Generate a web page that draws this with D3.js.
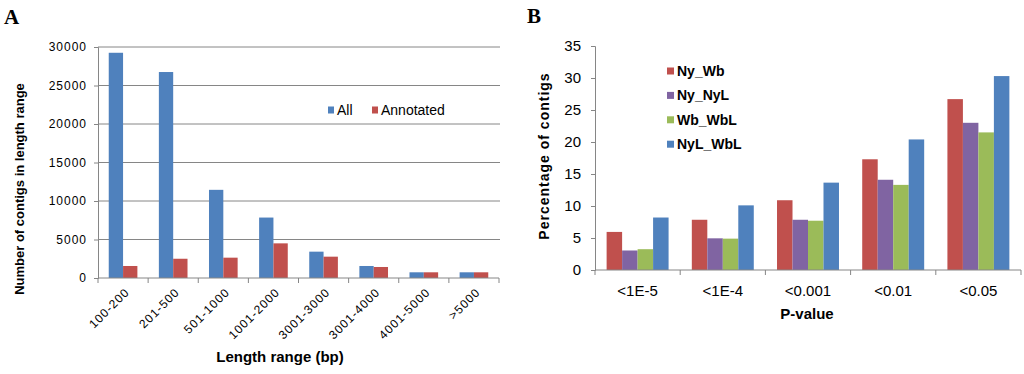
<!DOCTYPE html>
<html>
<head>
<meta charset="utf-8">
<script src="https://cdn.jsdelivr.net/npm/d3@7"></script>
<style>
  body { margin: 0; background: #fff; }
  svg { display: block; }
  text { font-family: "Liberation Sans", Arial, sans-serif; fill: #000; }
  .panel { font-family: "Liberation Serif", "Times New Roman", serif; font-weight: bold; font-size: 21px; }
  .axis path, .axis line { stroke: #868686; }
  .grid line { stroke: #868686; }
</style>
</head>
<body>
<svg width="1024" height="374"></svg>
<script>
// panel A data
var lengthRanges = ["100-200", "201-500", "501-1000", "1001-2000", "3001-3000", "3001-4000", "4001-5000", ">5000"];
var allCounts = [29250, 26750, 11450, 7850, 3420, 1560, 740, 740];
var annotatedCounts = [1560, 2500, 2640, 4500, 2770, 1430, 740, 740];
var seriesA = ["All", "Annotated"];
var yTicksA = [0, 5000, 10000, 15000, 20000, 25000, 30000];

// panel B data
var pValues = ["<1E-5", "<1E-4", "<0.001", "<0.01", "<0.05"];
var nyWb = [5.95, 7.85, 10.9, 17.3, 26.7];
var nyNyL = [3.05, 4.95, 7.85, 14.1, 23.0];
var wbWbL = [3.25, 4.9, 7.7, 13.3, 21.5];
var nylWbL = [8.2, 10.1, 13.65, 20.4, 30.3];
var seriesB = ["Ny_Wb", "Ny_NyL", "Wb_WbL", "NyL_WbL"];
var yTicksB = [0, 5, 10, 15, 20, 25, 30, 35];

var blue = "#4f81bd", red = "#c0504d", purple = "#8064a2", green = "#9bbb59";

var svg = d3.select("svg");

// ---------- A ----------
var mA = { left: 98, right: 499, top: 47, bottom: 278 };
var gA = svg.append("g");

var xA = d3.scaleBand().domain(lengthRanges).range([mA.left, mA.right]).paddingInner(0).paddingOuter(0);
var subA = d3.scaleBand().domain(seriesA).range([0, xA.bandwidth()]).paddingInner(0).paddingOuter(0.75);
var yA = d3.scaleLinear().domain([0, 30000]).range([mA.bottom, mA.top]);

gA.append("g").attr("class", "grid")
  .selectAll("line").data(yTicksA.slice(1)).join("line")
  .attr("x1", mA.left).attr("x2", mA.right + 1)
  .attr("y1", d => yA(d)).attr("y2", d => yA(d));

var rowsA = lengthRanges.map((c, i) => ({ cat: c, vals: [allCounts[i], annotatedCounts[i]] }));
gA.append("g").selectAll("g").data(rowsA).join("g")
  .attr("transform", d => "translate(" + xA(d.cat) + ",0)")
  .selectAll("rect").data(d => d.vals.map((v, j) => ({ s: seriesA[j], v: v }))).join("rect")
  .attr("x", d => subA(d.s)).attr("width", subA.bandwidth())
  .attr("y", d => yA(d.v)).attr("height", d => yA(0) - yA(d.v))
  .attr("fill", d => d.s === "All" ? blue : red);

gA.append("g").attr("class", "axis")
  .attr("transform", "translate(" + mA.left + ",0)")
  .call(d3.axisLeft(yA).tickValues(yTicksA).tickFormat(d3.format("d")).tickSize(4).tickPadding(7))
  .call(g => g.selectAll("text").style("font-size", "12px").style("letter-spacing", "1px"));

var xAxisA = gA.append("g").attr("class", "axis")
  .attr("transform", "translate(0," + mA.bottom + ")");
xAxisA.append("line").attr("x1", mA.left).attr("x2", mA.right).attr("y1", 0).attr("y2", 0);
xAxisA.selectAll(".tk").data(d3.range(lengthRanges.length + 1)).join("line").attr("class", "tk")
  .attr("x1", i => mA.left + i * xA.step()).attr("x2", i => mA.left + i * xA.step())
  .attr("y1", 0).attr("y2", 5);
xAxisA.selectAll("text").data(lengthRanges).join("text")
  .attr("transform", d => "translate(" + (xA(d) + xA.bandwidth() / 2 + 7) + ",15) rotate(-45)")
  .attr("text-anchor", "end")
  .style("font-size", "12px").style("letter-spacing", "1px")
  .text(d => d);

gA.append("text").attr("x", 280).attr("y", 362).attr("text-anchor", "middle")
  .style("font-size", "15px").style("font-weight", "bold")
  .text("Length range (bp)");
gA.append("text").attr("transform", "translate(24,189) rotate(-90)").attr("text-anchor", "middle")
  .style("font-size", "13px").style("font-weight", "bold")
  .text("Number of contigs in length range");
gA.append("text").attr("class", "panel").attr("x", 4).attr("y", 24).text("A");

var legA = gA.append("g").selectAll("g").data(seriesA).join("g")
  .attr("transform", (d, i) => "translate(" + [328, 372][i] + ",110)");
legA.append("rect").attr("x", 0).attr("y", -3.5).attr("width", 6).attr("height", 7)
  .attr("fill", d => d === "All" ? blue : red);
legA.append("text").attr("x", 9).attr("y", 5).style("font-size", "14px").text(d => d);

// ---------- B ----------
var mB = { left: 595, right: 1021, top: 46, bottom: 270 };
var gB = svg.append("g");
var colB = [red, purple, green, blue];
var xB = d3.scaleBand().domain(pValues).range([mB.left, mB.right]).paddingInner(0).paddingOuter(0);
var subB = d3.scaleBand().domain(seriesB).range([0, xB.bandwidth()]).paddingInner(0).paddingOuter(0.75);
var yB = d3.scaleLinear().domain([0, 35]).range([mB.bottom, mB.top]);

var rowsB = pValues.map((c, i) => ({ cat: c, vals: [nyWb[i], nyNyL[i], wbWbL[i], nylWbL[i]] }));
gB.append("g").selectAll("g").data(rowsB).join("g")
  .attr("transform", d => "translate(" + xB(d.cat) + ",0)")
  .selectAll("rect").data(d => d.vals.map((v, j) => ({ s: seriesB[j], v: v, j: j }))).join("rect")
  .attr("x", d => subB(d.s)).attr("width", subB.bandwidth())
  .attr("y", d => yB(d.v)).attr("height", d => yB(0) - yB(d.v))
  .attr("fill", d => colB[d.j]);

gB.append("g").attr("class", "axis")
  .attr("transform", "translate(" + mB.left + ",0)")
  .call(d3.axisLeft(yB).tickValues(yTicksB).tickSize(4).tickPadding(10))
  .call(g => g.selectAll("text").style("font-size", "15px"));

var xAxisB = gB.append("g").attr("class", "axis")
  .attr("transform", "translate(0," + mB.bottom + ")");
xAxisB.append("line").attr("x1", mB.left).attr("x2", mB.right).attr("y1", 0).attr("y2", 0);
xAxisB.selectAll(".tk").data(d3.range(pValues.length + 1)).join("line").attr("class", "tk")
  .attr("x1", i => mB.left + i * xB.step()).attr("x2", i => mB.left + i * xB.step())
  .attr("y1", 0).attr("y2", 5);
xAxisB.selectAll("text").data(pValues).join("text")
  .attr("x", d => xB(d) + xB.bandwidth() / 2).attr("y", 26)
  .attr("text-anchor", "middle").style("font-size", "15px")
  .text(d => d);

gB.append("text").attr("x", 807).attr("y", 319).attr("text-anchor", "middle")
  .style("font-size", "15px").style("font-weight", "bold")
  .text("P-value");
gB.append("text").attr("transform", "translate(549,156) rotate(-90)").attr("text-anchor", "middle")
  .style("font-size", "14px").style("font-weight", "bold").style("letter-spacing", "1px")
  .text("Percentage of contigs");
gB.append("text").attr("class", "panel").attr("x", 527).attr("y", 23).text("B");

var legB = gB.append("g").selectAll("g").data(seriesB).join("g")
  .attr("transform", (d, i) => "translate(667," + (71 + i * 24.4) + ")");
legB.append("rect").attr("x", 0).attr("y", -3.5).attr("width", 7).attr("height", 7)
  .attr("fill", (d, i) => colB[i]);
legB.append("text").attr("x", 10).attr("y", 5).style("font-size", "14px").style("font-weight", "bold")
  .text(d => d);
</script>
</body>
</html>
